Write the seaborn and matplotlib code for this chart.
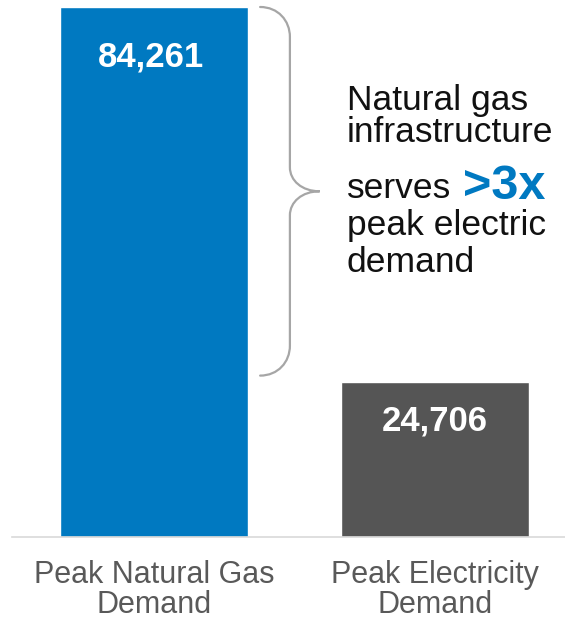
import matplotlib
matplotlib.use("Agg")
import matplotlib.pyplot as plt
import matplotlib.transforms as mtransforms
from matplotlib.path import Path
from matplotlib.patches import PathPatch
import pandas as pd
import seaborn as sns

# data
categories = ["Peak Natural Gas\nDemand", "Peak Electricity\nDemand"]
values = [84261, 24706]
value_labels = ["84,261", "24,706"]
bar_colors = ["#0079C1", "#555555"]
callout_lines = ["Natural gas", "infrastructure", "serves", "peak electric", "demand"]
callout_highlight = ">3x"

sns.set_theme(style="white")
plt.rcParams['font.family'] = ['Liberation Sans', 'DejaVu Sans']

W, H = 565, 622
fig = plt.figure(figsize=(W / 100, H / 100), dpi=100)
ax = fig.add_axes([12 / W, 85 / H, (W - 12) / W, 530 / H])

df = pd.DataFrame({"category": categories, "value": values})
sns.barplot(data=df, x="category", y="value", hue="category", palette=bar_colors,
            width=0.67, saturation=1, legend=False, ax=ax)

ax.set_xlim(-0.505, 1.463)
ax.set_ylim(0, values[0])
ax.set_xlabel("")
ax.set_ylabel("")
ax.set_xticks([])
ax.set_yticks([])
for s in ["top", "right", "left"]:
    ax.spines[s].set_visible(False)
ax.spines["bottom"].set_color("#d9d9d9")
ax.spines["bottom"].set_linewidth(1.2)

# value labels inside bars
label_offsets = [43, 35]  # points below bar top
for i, (v, lab) in enumerate(zip(values, value_labels)):
    ax.annotate(lab, (i, v), xytext=(-2 if i == 0 else 0, -label_offsets[i]), textcoords="offset points",
                ha="center", va="baseline", color="white", fontsize=25, fontweight="bold")

# category labels below the axis
trans = mtransforms.blended_transform_factory(ax.transData, ax.transAxes)
for i, cat in enumerate(categories):
    ax.text(i, -0.043, cat, transform=trans, ha="center", va="top", fontsize=22,
            color="#595959", linespacing=1.0)

# brace between the two bar heights
px_y = values[0] / 530
x0, x1, xt = 0.378, 0.484, 0.59
ytop = values[0]
ybot = values[1] + 6 * px_y
ymid = (ytop + ybot) / 2
r_end = 30 * px_y
r_mid = 24 * px_y
verts = [
    (x0, ytop),
    (x0 + 0.6 * (x1 - x0), ytop), (x1, ytop - 0.45 * r_end), (x1, ytop - r_end),
    (x1, ymid + r_mid),
    (x1, ymid + 0.45 * r_mid), (x1 + 0.4 * (xt - x1), ymid), (xt, ymid),
    (x1 + 0.4 * (xt - x1), ymid), (x1, ymid - 0.45 * r_mid), (x1, ymid - r_mid),
    (x1, ybot + r_end),
    (x1, ybot + 0.45 * r_end), (x0 + 0.6 * (x1 - x0), ybot), (x0, ybot),
]
codes = [Path.MOVETO, Path.CURVE4, Path.CURVE4, Path.CURVE4, Path.LINETO,
         Path.CURVE4, Path.CURVE4, Path.CURVE4, Path.CURVE4, Path.CURVE4, Path.CURVE4,
         Path.LINETO, Path.CURVE4, Path.CURVE4, Path.CURVE4]
ax.add_patch(PathPatch(Path(verts, codes), facecolor="none", edgecolor="#a6a6a6",
                       linewidth=1.6, clip_on=False, capstyle="round"))

# callout text
def fx(x):
    return x / W

def fy(y):
    return 1 - y / H

baselines = [110, 142, 198, 235, 272]
for line, yb in zip(callout_lines, baselines):
    fig.text(fx(347), fy(yb), line, ha="left", va="baseline", fontsize=25.5, color="#111111")
fig.text(fx(463), fy(199), callout_highlight, ha="left", va="baseline", fontsize=35,
         fontweight="bold", color="#0079C1")

fig.savefig("out.png", dpi=100)
